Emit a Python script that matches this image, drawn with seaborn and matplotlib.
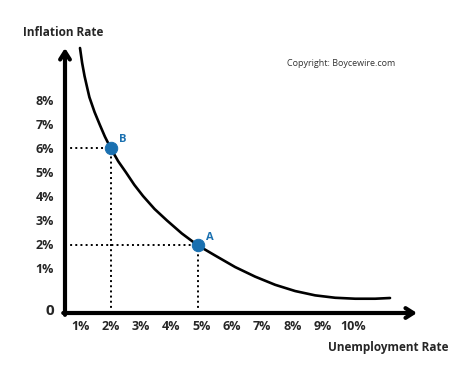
import matplotlib
matplotlib.use('Agg')
import matplotlib.pyplot as plt
import seaborn as sns
import pandas as pd

# Phillips curve points (x = unemployment %, y = inflation %)
unemployment = [0.99, 1.06, 1.14, 1.23, 1.30, 1.47, 1.64, 1.81, 2.0, 2.25, 2.51,
                2.78, 3.07, 3.45, 3.86, 4.35, 4.87, 5.45, 6.11, 6.77, 7.43,
                8.09, 8.75, 9.41, 10.07, 10.73, 11.22]
inflation = [10.17, 9.55, 9.0, 8.5, 8.12, 7.5, 6.98, 6.48, 6.0, 5.45, 4.98,
             4.47, 4.0, 3.46, 2.98, 2.44, 1.95, 1.52, 1.04, 0.64, 0.3,
             0.04, -0.14, -0.24, -0.28, -0.28, -0.25]

point_names = ['A', 'B']
point_x = [4.87, 2.0]
point_y = [1.95, 6.0]

x_ticks = [1, 2, 3, 4, 5, 6, 7, 8, 9, 10]
x_labels = ['1%', '2%', '3%', '4%', '5%', '6%', '7%', '8%', '9%', '10%']
y_ticks = [1, 2, 3, 4, 5, 6, 7, 8]
y_labels = ['1%', '2%', '3%', '4%', '5%', '6%', '7%', '8%']

BLUE = '#1a70b0'
XMIN, XMAX = 0.495, 12.11
YMIN, YMAX = -0.875, 10.17

sns.set_style('white')
plt.rcParams['font.family'] = ['Open Sans', 'DejaVu Sans']

fig = plt.figure(figsize=(4.74, 3.75), dpi=100)
ax = fig.add_axes([65 / 474, 62 / 375, 352 / 474, 265 / 375])

curve = pd.DataFrame({'u': unemployment, 'i': inflation})
sns.lineplot(data=curve, x='u', y='i', sort=False, color='black', lw=1.9,
             ax=ax, clip_on=False)

# dotted guide lines
for px, py in zip(point_x, point_y):
    ax.plot([XMIN, px], [py, py], ls=':', color='black', lw=1.4)
    ax.plot([px, px], [YMIN, py], ls=':', color='black', lw=1.4)

pts = pd.DataFrame({'x': point_x, 'y': point_y, 'name': point_names})
sns.scatterplot(data=pts, x='x', y='y', color=BLUE, s=80, edgecolor=BLUE,
                zorder=5, ax=ax, legend=False)
for name, px, py in zip(point_names, point_x, point_y):
    ax.annotate(name, (px, py), xytext=(6, 4), textcoords='offset points',
                color=BLUE, fontsize=8, fontweight='bold')

ax.set_xlim(XMIN, XMAX)
ax.set_ylim(YMIN, YMAX)
for s in ax.spines.values():
    s.set_visible(False)

# axis arrows
arrow = dict(arrowstyle='->,head_length=0.55,head_width=0.35', lw=3,
             color='black', shrinkA=0, shrinkB=0)
ax.annotate('', xy=(1, 0), xytext=(-0.005, 0), xycoords='axes fraction',
            arrowprops=arrow)
ax.annotate('', xy=(0, 1), xytext=(0, -0.007), xycoords='axes fraction',
            arrowprops=arrow)

ax.set_xticks(x_ticks)
ax.set_xticklabels(x_labels, fontweight='bold', fontsize=9)
ax.set_yticks([YMIN + 0.15] + y_ticks)
ax.set_yticklabels(['0'] + y_labels, fontweight='bold', fontsize=9)
ax.get_yticklabels()[0].set_fontsize(11)
ax.tick_params(axis='x', length=0, pad=5)
ax.tick_params(axis='y', length=0, pad=8)
ax.set_xlabel('')
ax.set_ylabel('')

fig.text(63 / 474, 1 - 32 / 375, 'Inflation Rate', ha='center', va='center',
         fontsize=8.5, fontweight='bold')
fig.text(448 / 474, 1 - 347 / 375, 'Unemployment Rate', ha='right', va='center',
         fontsize=8.5, fontweight='bold')
fig.text(287 / 474, 1 - 64 / 375, 'Copyright: Boycewire.com', ha='left',
         va='center', fontsize=6.5, color='#333333')

fig.savefig('out.png', dpi=100)
